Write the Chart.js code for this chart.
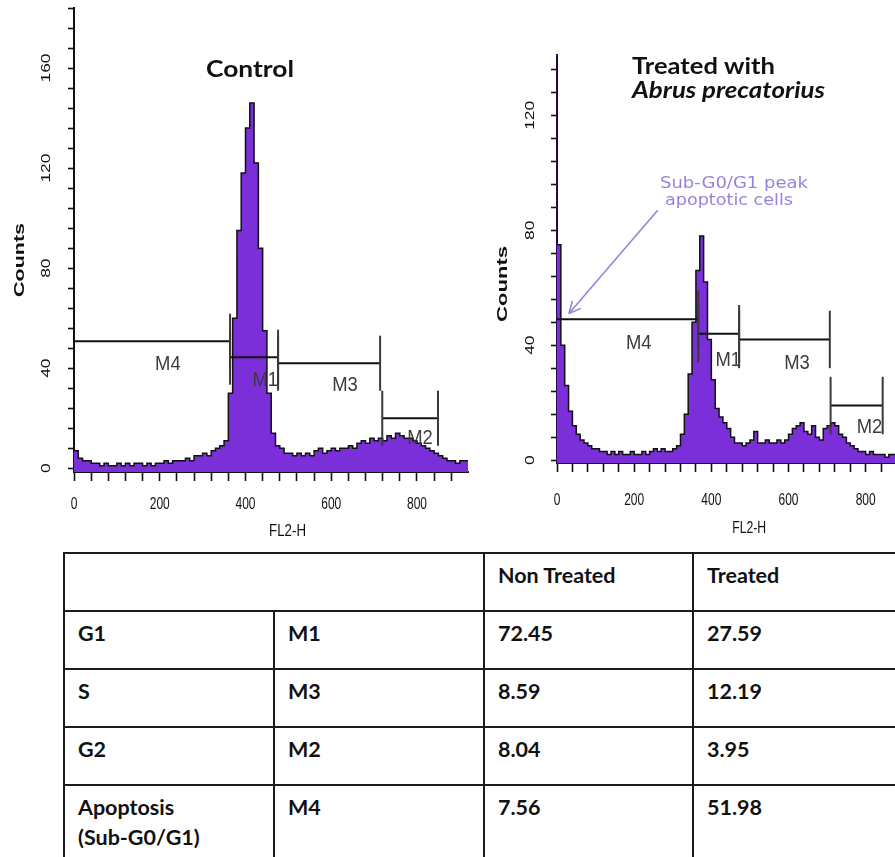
<!DOCTYPE html>
<html><head><meta charset="utf-8">
<script src="https://cdn.jsdelivr.net/npm/chart.js@4.4.1/dist/chart.umd.min.js"></script>
<style>
html,body{margin:0;padding:0;width:895px;height:857px;overflow:hidden;background:#fff;}
#c1{position:absolute;left:0;top:0;}
#c2{position:absolute;left:480px;top:0;}
table{position:absolute;left:63px;top:552px;width:860px;border-collapse:collapse;table-layout:fixed;
  font-family:Lato,'Open Sans',sans-serif;font-weight:bold;font-size:21.5px;color:#111;}
td{border:2px solid #1b1b1b;vertical-align:top;padding:6px 0 0 13px;line-height:30px;box-sizing:border-box;white-space:nowrap;overflow:hidden;}
tr{height:58px;}
tr.last{height:100px;}
</style></head>
<body>
<canvas id="c1" width="480" height="545"></canvas>
<canvas id="c2" width="450" height="545"></canvas>
<table id="tbl">
<colgroup><col style="width:210px"><col style="width:210px"><col style="width:209px"><col style="width:231px"></colgroup>
<tbody id="tbody"></tbody>
</table>
<script>
// ---------------- DATA ----------------
const binWidth = 10; // FL2-H channel bin width
// Control histogram counts, one per bin starting at 0,10,20,...
const controlCounts = [
  24, 7, 4, 3, 3, 2, 2, 1, 2, 1,
  1, 2, 1, 2, 1, 2, 2, 1, 2, 1,
  2, 2, 3, 2, 3, 3, 3, 4, 3, 5,
  5, 6, 5, 7, 8, 9, 11, 30, 60, 95,
  118, 136, 146, 122, 88, 55, 30, 14, 9, 8,
  6, 6, 5, 6, 5, 6, 5, 7, 8, 6,
  7, 8, 7, 8, 8, 9, 8, 10, 11, 10,
  12, 11, 12, 11, 13, 12, 14, 13, 12, 12,
  11, 10, 9, 8, 7, 6, 5, 4, 3, 3,
  2, 3
];
// Treated (Abrus precatorius) histogram counts
const treatedCounts = [
  150, 75, 40, 26, 17, 12, 9, 7, 6, 5,
  4, 4, 3, 3, 2, 3, 2, 3, 2, 2,
  3, 2, 2, 3, 2, 3, 4, 3, 4, 3,
  3, 4, 5, 9, 16, 30, 48, 66, 78, 62,
  42, 28, 18, 15, 13, 11, 8, 6, 6, 5,
  6, 7, 10, 6, 6, 7, 6, 6, 7, 6,
  7, 9, 11, 12, 13, 10, 9, 12, 8, 7,
  11, 12, 13, 12, 9, 8, 6, 5, 4, 3,
  3, 2, 3, 2, 2, 2, 1, 2, 2, 2,
  2, 2
];
const xTickLabels = ['0', '200', '400', '600', '800'];
const controlYTickLabels = ['0', '40', '80', '120', '160'];
const treatedYTickLabels = ['0', '40', '80', '120'];
const gateNames = ['M4', 'M1', 'M3', 'M2'];
const controlGateStart = [0, 364, 476, 719];
const controlGateEnd = [364, 476, 714, 849];
const controlGateLevel = [50.8, 44.4, 42, 20];
const treatedGateStart = [0, 366, 472, 709];
const treatedGateEnd = [366, 472, 707, 844];
const treatedGateLevel = [49, 44, 42, 19];
const tableHeader = ['', 'Non Treated', 'Treated'];
const phases = ['G1', 'S', 'G2', 'Apoptosis<br>(Sub-G0/G1)'];
const phaseGates = ['M1', 'M3', 'M2', 'M4'];
const nonTreatedPct = ['72.45', '8.59', '8.04', '7.56'];
const treatedPct = ['27.59', '12.19', '3.95', '51.98'];

// ---------------- TABLE ----------------
(function buildTable(){
  const tb = document.getElementById('tbody');
  let h = '<tr><td colspan="2">' + tableHeader[0] + '</td><td>' + tableHeader[1] + '</td><td>' + tableHeader[2] + '</td></tr>';
  phases.forEach((p, i) => {
    h += '<tr' + (i === phases.length - 1 ? ' class="last"' : '') + '><td>' + p + '</td><td>' + phaseGates[i] + '</td><td>' + nonTreatedPct[i] + '</td><td>' + treatedPct[i] + '</td></tr>';
  });
  tb.innerHTML = h;
})();

// ---------------- CHARTS ----------------
const PURPLE = '#7a2fd8';
function toPoints(counts){
  const pts = counts.map((c, i) => ({x: i * binWidth, y: c}));
  pts.push({x: counts.length * binWidth, y: counts[counts.length - 1]});
  return pts;
}
function drawText(ctx, text, x, y, o){
  ctx.save();
  ctx.translate(x, y);
  if (o.rotate) ctx.rotate(o.rotate);
  ctx.font = o.font;
  const w = ctx.measureText(text).width;
  const sx = o.width ? o.width / w : (o.sx || 1);
  ctx.scale(sx, o.sy || 1);
  ctx.fillStyle = o.color || '#111';
  ctx.textAlign = o.align || 'center';
  ctx.textBaseline = o.baseline || 'middle';
  ctx.fillText(text, 0, 0);
  ctx.restore();
}

function makeChart(id, counts, cfg){
  const overlay = {
    id: 'overlay',
    afterDraw(chart){
      const ctx = chart.ctx, xs = chart.scales.x, ys = chart.scales.y;
      // gates
      ctx.save();
      cfg.gateStart.forEach((s, i) => {
        const x1 = xs.getPixelForValue(s), x2 = xs.getPixelForValue(cfg.gateEnd[i]);
        const y = ys.getPixelForValue(cfg.gateLevel[i]);
        ctx.strokeStyle = '#111'; ctx.lineWidth = 2;
        ctx.beginPath(); ctx.moveTo(x1, y); ctx.lineTo(x2, y); ctx.stroke();
        ctx.strokeStyle = '#3a3a3a'; ctx.lineWidth = 2;
        const yt = ys.getPixelForValue(cfg.gateLevel[i] + cfg.barHalf);
        const yb = ys.getPixelForValue(cfg.gateLevel[i] - cfg.barHalf);
        [x1, x2].forEach(xx => { if (xx > xs.left + 2) { ctx.beginPath(); ctx.moveTo(xx, yt); ctx.lineTo(xx, yb); ctx.stroke(); } });
        drawText(ctx, gateNames[i], xs.getPixelForValue(cfg.labelPos[i][0]), ys.getPixelForValue(cfg.labelPos[i][1]),
          {font: '16px "Liberation Sans", Arial, sans-serif', sx: 1.15, sy: 1.3, color: '#3c3c3c'});
      });
      ctx.restore();
      // tick labels
      cfg.yTicks.forEach(t => {
        drawText(ctx, t, cfg.yLabelX, ys.getPixelForValue(Number(t)),
          {font: '12px "Liberation Sans", Arial, sans-serif', rotate: -Math.PI / 2, sx: 1.45, color: '#111'});
      });
      xTickLabels.forEach(t => {
        drawText(ctx, t, xs.getPixelForValue(Number(t)), cfg.xLabelY,
          {font: '12px "Liberation Sans", Arial, sans-serif', sy: 1.45, color: '#111'});
      });
      // axis titles
      drawText(ctx, 'FL2-H', xs.getPixelForValue(498), cfg.fl2hY,
        {font: '12px "Liberation Sans", Arial, sans-serif', width: cfg.fl2hW, sy: 1.45, color: '#111'});
      drawText(ctx, 'Counts', cfg.countsX, cfg.countsY,
        {font: 'bold 15px "Liberation Sans", Arial, sans-serif', rotate: -Math.PI / 2, width: cfg.countsW, color: '#111'});
      if (cfg.extra) cfg.extra(chart, ctx, xs, ys);
    }
  };
  return new Chart(document.getElementById(id), {
    type: 'line',
    data: {datasets: [{
      data: toPoints(counts), stepped: 'after', fill: 'start',
      backgroundColor: PURPLE, borderColor: '#111', borderWidth: 1.5,
      pointRadius: 0, tension: 0
    }]},
    options: {
      responsive: false, animation: false, events: [],
      layout: {padding: cfg.padding},
      plugins: {legend: {display: false}, tooltip: {enabled: false}},
      scales: {
        x: {type: 'linear', min: 0, max: cfg.xMax, z: 1,
          border: {display: true, color: '#111', width: 2},
          grid: {display: true, drawOnChartArea: false, drawTicks: true, tickLength: 9, tickWidth: 1.6, tickColor: '#111'},
          ticks: {display: false},
          afterBuildTicks: s => { const t = []; for (let v = 0; v <= cfg.xMax; v += 40) t.push({value: v}); s.ticks = t; },
          afterFit: s => { s.height = cfg.xAxisH; }
        },
        y: {type: 'linear', min: cfg.yMin, max: cfg.yMax, z: 1,
          border: {display: true, color: cfg.yAxisColor || '#111', width: 2},
          grid: {display: true, drawOnChartArea: false, drawTicks: true, tickLength: 6, tickWidth: 1.6, tickColor: '#111'},
          ticks: {display: false},
          afterBuildTicks: s => { const t = []; for (let v = 0; v <= cfg.yMax; v += 8) t.push({value: v}); s.ticks = t; },
          afterFit: s => { s.width = cfg.yAxisW; }
        }
      }
    },
    plugins: [overlay]
  });
}

makeChart('c1', controlCounts, {
  padding: {top: 8, right: 12, left: 0, bottom: 0},
  xMax: 919, yMin: -1.5, yMax: 184, xAxisH: 73, yAxisW: 74,
  gateStart: controlGateStart, gateEnd: controlGateEnd, gateLevel: controlGateLevel, barHalf: 11,
  labelPos: [[219, 41.6], [446, 35], [632, 33], [807, 12]],
  yTicks: controlYTickLabels, yLabelX: 47, xLabelY: 504,
  fl2hY: 531, fl2hW: 37, countsX: 20, countsY: 260, countsW: 74,
  extra(chart, ctx){
    drawText(ctx, 'Control', 250, 77, {font: 'bold 19px Lato, sans-serif', width: 88, sy: 1.2, baseline: 'alphabetic', color: '#111'});
  }
});

makeChart('c2', treatedCounts, {
  padding: {top: 55, right: 18, left: 0, bottom: 0},
  xMax: 920, yMin: -1, yMax: 141, xAxisH: 82, yAxisW: 77, yAxisColor: '#2a0e55',
  gateStart: treatedGateStart, gateEnd: treatedGateEnd, gateLevel: treatedGateLevel, barHalf: 10,
  labelPos: [[212, 40.7], [444, 34.8], [622, 33.7], [810, 11.5]],
  yTicks: treatedYTickLabels, yLabelX: 51, xLabelY: 500,
  fl2hY: 528, fl2hW: 34, countsX: 23, countsY: 284, countsW: 76,
  extra(chart, ctx, xs, ys){
    drawText(ctx, 'Treated with', 152, 74, {font: 'bold 19px Lato, sans-serif', width: 143, sy: 1.2, align: 'left', baseline: 'alphabetic', color: '#111'});
    drawText(ctx, 'Abrus precatorius', 152, 98, {font: 'italic bold 19px Lato, sans-serif', width: 193, sy: 1.2, align: 'left', baseline: 'alphabetic', color: '#111'});
    const ac = '#9a82dc';
    drawText(ctx, 'Sub-G0/G1 peak', 180, 188, {font: '15px "DejaVu Sans", sans-serif', width: 148, align: 'left', baseline: 'alphabetic', color: ac});
    drawText(ctx, 'apoptotic cells', 185, 205, {font: '15px "DejaVu Sans", sans-serif', width: 128, align: 'left', baseline: 'alphabetic', color: ac});
    // arrow from label to sub-G0/G1 peak
    const sx = xs.getPixelForValue(261), sy = ys.getPixelForValue(87);
    const tx = xs.getPixelForValue(31), ty = ys.getPixelForValue(51);
    ctx.save();
    ctx.strokeStyle = ac; ctx.lineWidth = 1.6;
    ctx.beginPath(); ctx.moveTo(sx, sy); ctx.lineTo(tx, ty); ctx.stroke();
    const ang = Math.atan2(sy - ty, sx - tx);
    [0.45, -0.45].forEach(d => {
      ctx.beginPath(); ctx.moveTo(tx, ty);
      ctx.lineTo(tx + 13 * Math.cos(ang + d), ty + 13 * Math.sin(ang + d)); ctx.stroke();
    });
    ctx.restore();
  }
});
</script>
</body></html>
